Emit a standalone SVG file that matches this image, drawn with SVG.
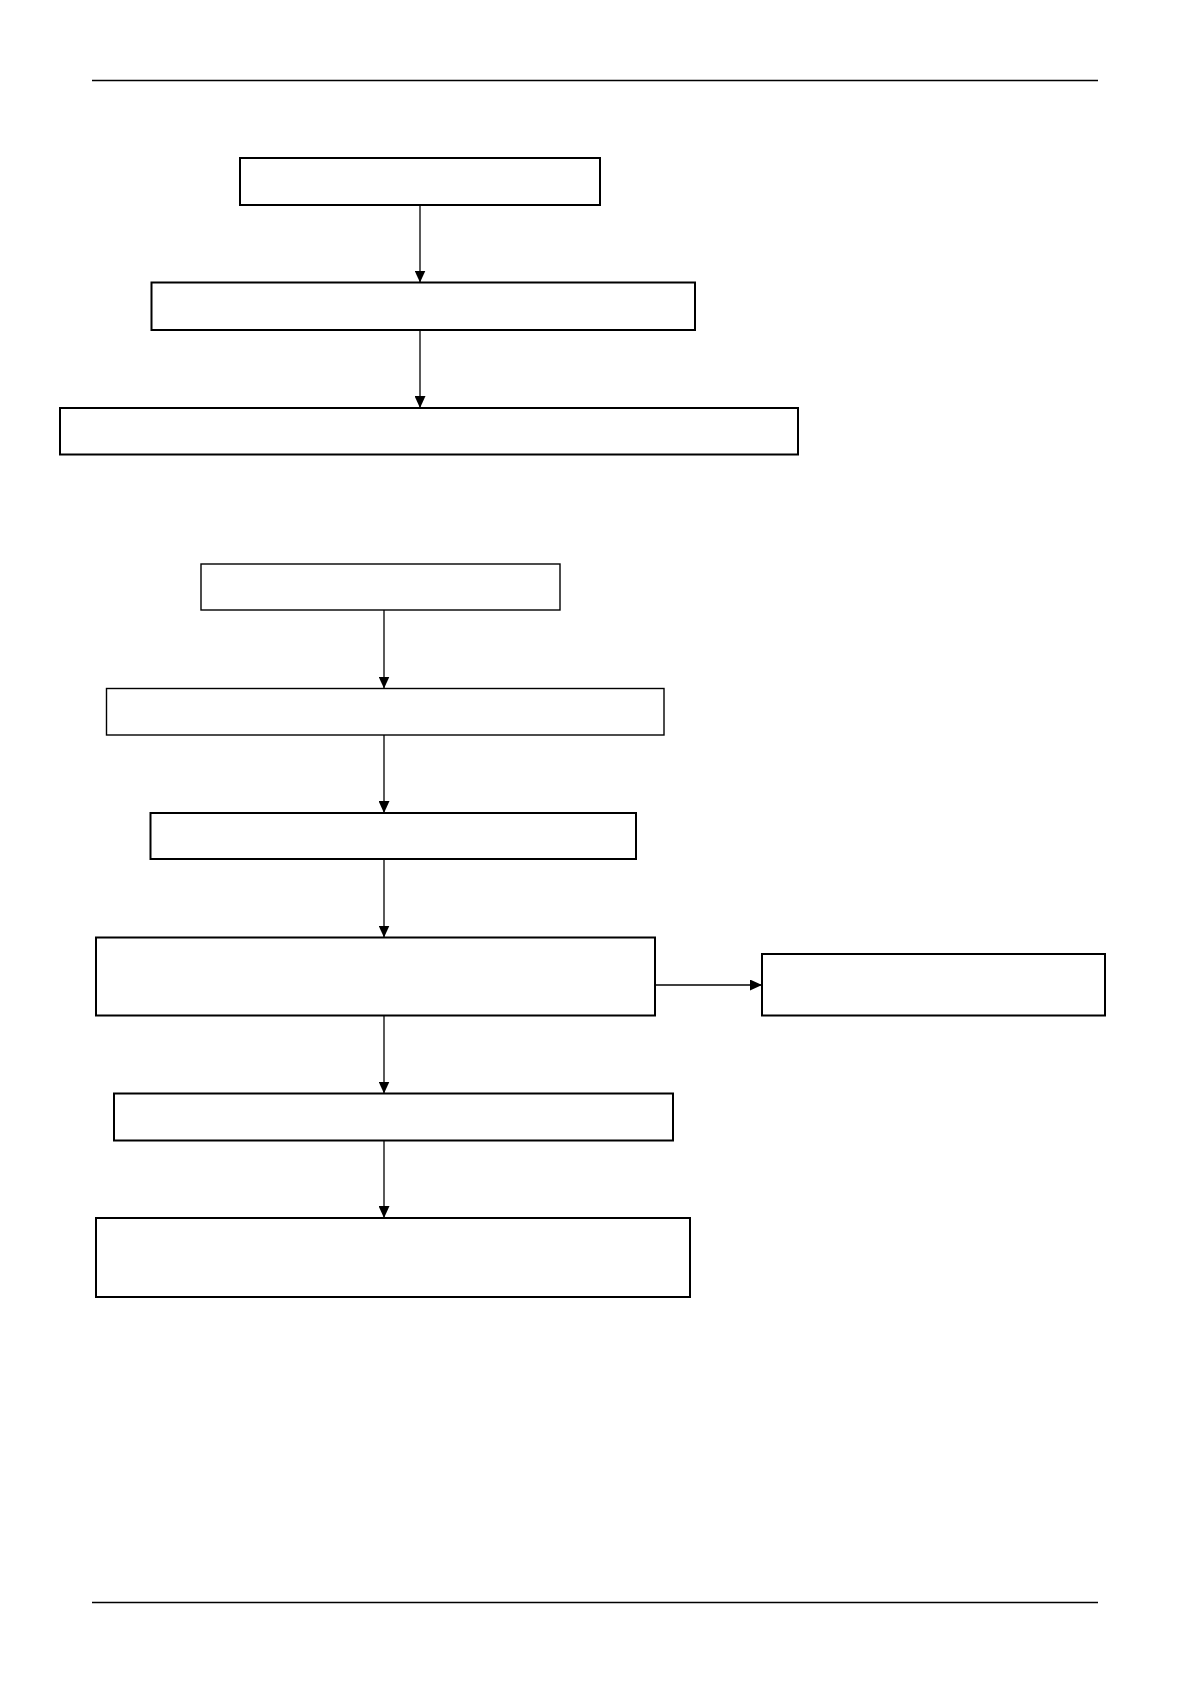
<svg xmlns="http://www.w3.org/2000/svg" width="1190" height="1684" viewBox="0 0 1190 1684">
<defs>
<style>
.node{fill:#fff;stroke:#000;stroke-width:2}
.thin{stroke-width:1.4}
.rule{stroke:#000;stroke-width:1.5}
.edge{stroke:#000;stroke-width:1.3;fill:none;marker-end:url(#ah)}
</style>
<marker id="ah" viewBox="0 0 12 11" refX="12" refY="5.5" markerWidth="12" markerHeight="11" markerUnits="userSpaceOnUse" orient="auto">
<path d="M0,0 L12,5.5 L0,11 Z" fill="#000"/>
</marker>
</defs>
<rect width="1190" height="1684" fill="#fff"/>
<line class="rule" x1="92" y1="80.5" x2="1098" y2="80.5"/>
<line class="rule" x1="92" y1="1602.5" x2="1098" y2="1602.5"/>
<g id="connectors">
<line class="edge" x1="420" y1="205" x2="420" y2="282.5"/>
<line class="edge" x1="420" y1="330" x2="420" y2="408"/>
<line class="edge" x1="384" y1="610" x2="384" y2="688.5"/>
<line class="edge" x1="384" y1="735" x2="384" y2="813"/>
<line class="edge" x1="384" y1="859" x2="384" y2="937.5"/>
<line class="edge" x1="655" y1="985" x2="762" y2="985"/>
<line class="edge" x1="384" y1="1015" x2="384" y2="1093.5"/>
<line class="edge" x1="384" y1="1140.5" x2="384" y2="1218"/>
</g>
<g id="n1"><rect class="node" x="240" y="158" width="360" height="47"/></g>
<g id="n2"><rect class="node" x="151.5" y="282.5" width="543.5" height="47.5"/></g>
<g id="n3"><rect class="node" x="60" y="408" width="738" height="46.5"/></g>
<g id="n4"><rect class="node thin" x="201" y="564" width="359" height="46"/></g>
<g id="n5"><rect class="node thin" x="106.5" y="688.5" width="557.5" height="46.5"/></g>
<g id="n6"><rect class="node" x="150.5" y="813" width="485.5" height="46"/></g>
<g id="n7"><rect class="node" x="96" y="937.5" width="559" height="78"/></g>
<g id="n8"><rect class="node" x="762" y="954" width="343" height="61.5"/></g>
<g id="n9"><rect class="node" x="114" y="1093.5" width="559" height="47"/></g>
<g id="n10"><rect class="node" x="96" y="1218" width="594" height="79"/></g>
</svg>
